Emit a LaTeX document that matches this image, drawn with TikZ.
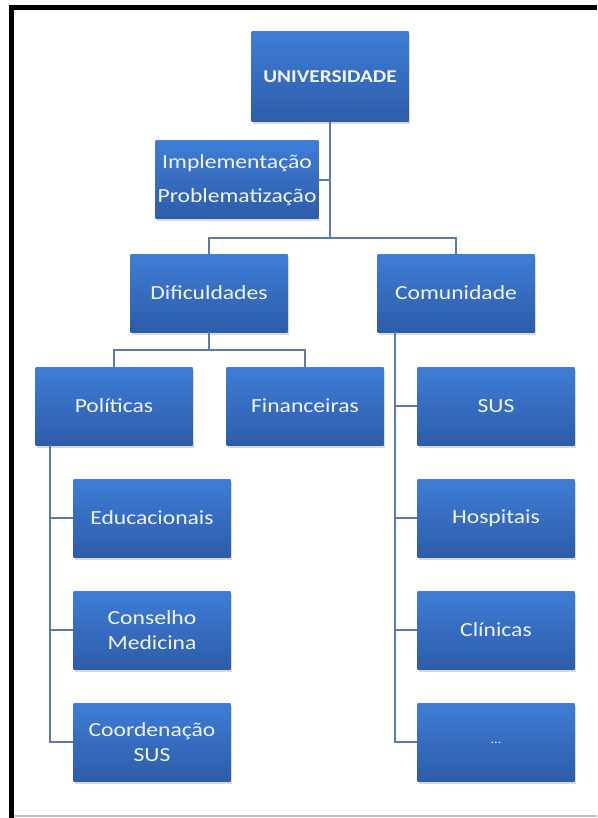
\documentclass[tikz,border=0pt]{standalone}
\usepackage{fontspec}
\setmainfont[FakeStretch=1.18]{Carlito}
\usetikzlibrary{shadows}
\definecolor{boxtop}{HTML}{3F7DD6}
\definecolor{boxbot}{HTML}{2D5CA9}
\definecolor{linkc}{HTML}{5B7CA8}
\definecolor{boxtext}{HTML}{F2F6FC}
\tikzset{
  orgbox/.style={rectangle, minimum width=157pt, minimum height=78pt, inner sep=2pt,
    top color=boxtop, bottom color=boxbot, draw=none, text=boxtext,
    font=\fontsize{20}{25}\selectfont, align=center,
    drop shadow={shadow xshift=1pt, shadow yshift=-2.5pt, opacity=0.3}},
  link/.style={draw=linkc, line width=1.4pt},
  frameline/.style={fill=black, draw=none}
}
\begin{document}
\begin{tikzpicture}[x=1pt, y=-1pt]
\useasboundingbox (0,0) rectangle (597,818);
% outer frame (top and left edges, thin bottom rule)
\fill[frameline] (9,5) rectangle (597,10);
\fill[frameline] (9,5) rectangle (14,818);
\fill[black!25] (14,815) rectangle (597,816.5);

% helper coordinates for the connector rails
\coordinate (rail1) at (0,238);
\coordinate (rail2) at (0,350);
\coordinate (ctrunk) at (395,0);
\coordinate (ptrunk) at (50,0);

% boxes
\node[orgbox, minimum height=90pt, font=\bfseries\fontsize{18}{25}\selectfont] (univ) at (330,77) {UNIVERSIDADE};
\node[orgbox] (impl) at (237,180) {\raisebox{-3pt}{Implementação}\\[9pt]\raisebox{-3pt}{Problematização}};
\node[orgbox] (dif) at (209,293) {Dificuldades};
\node[orgbox] (com) at (456,293) {Comunidade};
\node[orgbox] (pol) at (114,406) {Políticas};
\node[orgbox] (fin) at (305,406) {Financeiras};
\node[orgbox] (sus) at (496,406) {SUS};
\node[orgbox] (edu) at (152,518) {Educacionais};
\node[orgbox] (cons) at (152,630) {Conselho\\Medicina};
\node[orgbox] (coord) at (152,742) {Coordenação\\SUS};
\node[orgbox] (hosp) at (496,518) {Hospitais};
\node[orgbox] (clin) at (496,630) {Clínicas};
\node[orgbox] (etc) at (496,742) {\fontsize{12}{13}\selectfont\raisebox{-4pt}{...}};

% connectors
\draw[link] (univ.south) -- (univ.south |- rail1);
\draw[link] (impl.east) -- (impl.east -| univ.south);
\draw[link] (dif.north) -- (dif.north |- rail1) -| (com.north);
\draw[link] (dif.south) -- (dif.south |- rail2);
\draw[link] (pol.north) -- (pol.north |- rail2) -| (fin.north);
\draw[link] (ptrunk |- pol.south) |- (coord.west);
\draw[link] (edu.west) -- (edu.west -| ptrunk);
\draw[link] (cons.west) -- (cons.west -| ptrunk);
\draw[link] (ctrunk |- com.south) |- (etc.west);
\draw[link] (sus.west) -- (sus.west -| ctrunk);
\draw[link] (hosp.west) -- (hosp.west -| ctrunk);
\draw[link] (clin.west) -- (clin.west -| ctrunk);
\end{tikzpicture}
\end{document}
